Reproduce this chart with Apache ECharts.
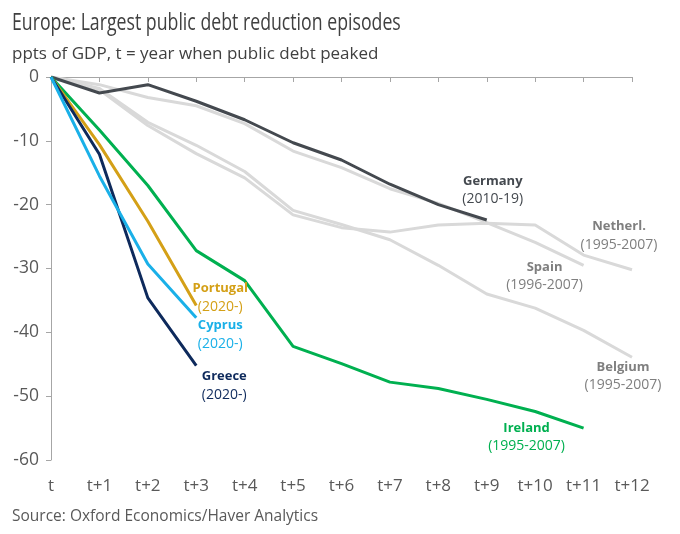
<!DOCTYPE html>
<html><head><meta charset="utf-8">
<script src="https://cdn.jsdelivr.net/npm/echarts@6/dist/echarts.min.js"></script>
<style>html,body{margin:0;padding:0;background:#fff}#c{width:680px;height:534px}</style>
</head><body><div id="c"></div>
<script>
const categories = ['t','t+1','t+2','t+3','t+4','t+5','t+6','t+7','t+8','t+9','t+10','t+11','t+12'];
const netherlands = [0,-2.0,-7.6,-12.0,-15.8,-21.6,-23.6,-24.3,-23.2,-22.9,-23.2,-27.9,-30.2];
const spain = [0,-1.2,-3.2,-4.5,-7.3,-11.6,-14.2,-17.5,-19.8,-22.8,-25.9,-29.5];
const belgium = [0,-1.8,-7.1,-10.7,-14.8,-20.9,-23.1,-25.5,-29.5,-34.0,-36.2,-39.7,-43.9];
const germany = [0,-2.5,-1.2,-3.8,-6.7,-10.3,-13.0,-16.8,-20.0,-22.4];
const ireland = [0,-8.3,-17.0,-27.2,-31.9,-42.2,-44.9,-47.8,-48.8,-50.5,-52.4,-55.0];
const portugal = [0,-10.6,-22.6,-35.8];
const cyprus = [0,-15.5,-29.3,-37.7];
const greece = [0,-12.1,-34.6,-45.2];
const yTicks = {min:-60, max:0, interval:10};

const FONT = '"Open Sans", "Noto Sans", sans-serif';
function lbl(name, period, color, cat, val, offset, periodColor) {
  return {
    symbol: 'circle', symbolSize: 0, silent: true,
    data: [{coord: [cat, val]}],
    label: {
      show: true, position: 'inside', offset: offset,
      formatter: '{a|' + name + '}\n{b|' + period + '}',
      rich: {
        a: {fontFamily: FONT, fontSize: 13, fontWeight: 'bold', color: color, lineHeight: 18, align: 'center'},
        b: {fontFamily: FONT, fontSize: 14, color: periodColor || color, lineHeight: 18, align: 'center'}
      }
    },
    itemStyle: {color: 'transparent'}
  };
}
function line(name, data, color, mp, z) {
  return {
    name: name, type: 'line', data: data, symbol: 'none', smooth: false, z: z,
    lineStyle: {color: color, width: 3}, itemStyle: {color: color},
    markPoint: mp
  };
}
const grey = '#d9d9d9', greyTxt = '#7f7f7f';
const chart = echarts.init(document.getElementById('c'), null, {renderer: 'canvas'});
chart.setOption({
  animation: false,
  backgroundColor: '#fff',
  graphic: [
    {type: 'text', x: 12, y: 23, scaleX: 0.77, silent: true,
     style: {text: 'Europe: Largest public debt reduction episodes', fontFamily: FONT, fontSize: 23,
             fill: '#404040', textVerticalAlign: 'middle', textAlign: 'left'}},
    {type: 'text', x: 12, y: 54, silent: true,
     style: {text: 'ppts of GDP, t = year when public debt peaked', fontFamily: FONT, fontSize: 17,
             fill: '#404040', textVerticalAlign: 'middle', textAlign: 'left'}},
    {type: 'text', x: 12, y: 517, silent: true,
     style: {text: 'Source: Oxford Economics/Haver Analytics', fontFamily: FONT, fontSize: 15.5,
             fill: '#595959', textVerticalAlign: 'middle', textAlign: 'left'}}
  ],
  grid: {left: 51, right: 48, top: 77, bottom: 74, containLabel: false},
  xAxis: {
    type: 'category', data: categories, boundaryGap: false,
    axisLine: {lineStyle: {color: '#a6a6a6', width: 1}},
    axisTick: {show: true, inside: false, length: 5, alignWithLabel: true, lineStyle: {color: '#a6a6a6'}},
    axisLabel: {fontFamily: FONT, fontSize: 17, color: '#595959', margin: 18, interval: 0},
    splitLine: {show: false}
  },
  yAxis: {
    type: 'value', min: yTicks.min, max: yTicks.max, interval: yTicks.interval,
    axisLine: {show: true, lineStyle: {color: '#a6a6a6', width: 1}},
    axisTick: {show: true, inside: false, length: 5, lineStyle: {color: '#a6a6a6'}},
    axisLabel: {fontFamily: FONT, fontSize: 17.5, color: '#595959', margin: 12},
    splitLine: {show: false}
  },
  series: [
    line('Netherlands', netherlands, grey, lbl('Netherl.', '(1995-2007)', greyTxt, 't+12', -30.2, [-13, -34]), 1),
    line('Spain', spain, grey, lbl('Spain', '(1996-2007)', greyTxt, 't+11', -29.5, [-39, 11]), 1),
    line('Belgium', belgium, grey, lbl('Belgium', '(1995-2007)', greyTxt, 't+12', -43.9, [-9, 19]), 1),
    line('Germany', germany, '#44494f', lbl('Germany', '(2010-19)', '#44494f', 't+9', -22.4, [6, -30]), 3),
    line('Ireland', ireland, '#00b050', lbl('Ireland', '(1995-2007)', '#00b050', 't+11', -55.0, [-57, 9]), 4),
    line('Portugal', portugal, '#d4a017', lbl('Portugal', '(2020-)', '#d4a017', 't+3', -35.8, [24, -8]), 5),
    line('Greece', greece, '#0e2a5c', lbl('Greece', '(2020-)', '#0e2a5c', 't+3', -45.2, [28, 20]), 6),
    line('Cyprus', cyprus, '#1ab0e8', lbl('Cyprus', '(2020-)', '#1ab0e8', 't+3', -37.7, [24, 17]), 7)
  ]
});
</script></body></html>
